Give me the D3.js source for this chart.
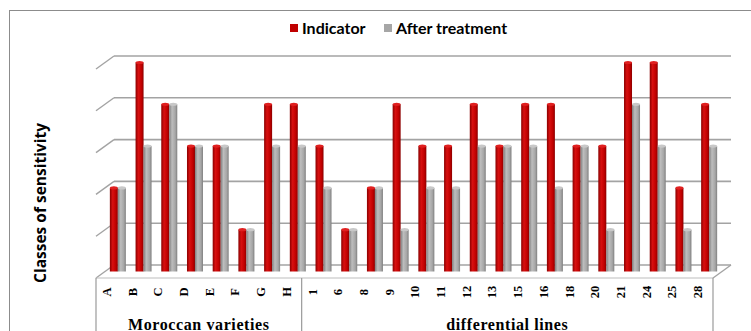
<!DOCTYPE html>
<html>
<head>
<meta charset="utf-8">
<script src="https://cdn.jsdelivr.net/npm/d3@7"></script>
<style>
  html, body { margin: 0; padding: 0; background: #fff; }
  svg { display: block; }
</style>
</head>
<body>
<svg id="chart" width="751" height="331"></svg>
<script>
// Categories (two groups) and the two series of sensitivity classes
const varieties = ["A", "B", "C", "D", "E", "F", "G", "H"];
const lines = ["1", "6", "8", "9", "10", "11", "12", "13", "15", "16", "18", "20", "21", "24", "25", "28"];
const categories = varieties.concat(lines);
const indicator = [2, 5, 4, 3, 3, 1, 4, 4, 3, 1, 2, 4, 3, 3, 4, 3, 4, 4, 3, 3, 5, 5, 2, 4];
const afterTreatment = [2, 3, 4, 3, 3, 1, 3, 3, 2, 1, 2, 1, 2, 2, 3, 3, 3, 2, 3, 1, 4, 3, 1, 3];
const seriesNames = ["Indicator", "After treatment"];
const groups = [
  { name: "Moroccan varieties", members: varieties },
  { name: "differential lines", members: lines }
];
const yTicks = [0, 1, 2, 3, 4, 5];

const svg = d3.select("#chart");
const colors = { "Indicator": "#c00000", "After treatment": "#a6a6a6" };

// 3D layout: front plane of the plot and a depth offset to the back wall
const depth = { dx: 18, dy: -13 };
const x = d3.scaleBand().domain(categories).range([96, 713]).padding(0);
const yBack = d3.scaleLinear().domain([0, 5]).range([265, 56]);
const yFront = v => yBack(v) - depth.dy;
const yMid = v => yBack(v) - depth.dy / 2;
const pairWidth = 16;
const xInner = d3.scaleBand().domain(seriesNames).range([0, pairWidth]);

// outer chart frame
svg.append("rect")
  .attr("x", 9.5).attr("y", 10.5).attr("width", 800).attr("height", 400)
  .attr("fill", "none").attr("stroke", "#8c8c8c").attr("stroke-width", 1);

// gradients giving the bars a rounded, cylinder-like shading
const defs = svg.append("defs");
function cylGrad(id, dark, mid, light) {
  const g = defs.append("linearGradient").attr("id", id)
    .attr("x1", "0%").attr("x2", "100%").attr("y1", "0%").attr("y2", "0%");
  g.append("stop").attr("offset", "0%").attr("stop-color", dark);
  g.append("stop").attr("offset", "35%").attr("stop-color", light);
  g.append("stop").attr("offset", "75%").attr("stop-color", mid);
  g.append("stop").attr("offset", "100%").attr("stop-color", dark);
}
cylGrad("gInd", "#8a0000", "#c00000", "#d81010");
cylGrad("gAft", "#7f7f7f", "#a6a6a6", "#bdbdbd");

const grid = svg.append("g").attr("class", "grid");
const x0 = x.range()[0], x1 = x.range()[1];

// back wall gridlines and the side-wall diagonals
yTicks.forEach(v => {
  grid.append("line")
    .attr("x1", x0 + depth.dx).attr("x2", x1 + depth.dx)
    .attr("y1", yBack(v)).attr("y2", yBack(v))
    .attr("stroke", "#a3a3a3").attr("stroke-width", 1.6);
  grid.append("line")
    .attr("x1", x0).attr("y1", yFront(v))
    .attr("x2", x0 + depth.dx).attr("y2", yBack(v))
    .attr("stroke", "#a3a3a3").attr("stroke-width", 1.4);
});
// floor: front edge and right diagonal
grid.append("line")
  .attr("x1", x0).attr("x2", x1).attr("y1", yFront(0)).attr("y2", yFront(0))
  .attr("stroke", "#bdbdbd").attr("stroke-width", 1);
grid.append("line")
  .attr("x1", x1).attr("y1", yFront(0)).attr("x2", x1 + depth.dx).attr("y2", yBack(0))
  .attr("stroke", "#a3a3a3").attr("stroke-width", 1.4);

// bars, drawn at mid depth
const rows = categories.map((c, i) => ({
  cat: c,
  vals: [
    { s: "Indicator", v: indicator[i], fill: "url(#gInd)", top: "#e02020" },
    { s: "After treatment", v: afterTreatment[i], fill: "url(#gAft)", top: "#c8c8c8" }
  ]
}));
const catG = svg.append("g").selectAll("g").data(rows).join("g")
  .attr("transform", d => `translate(${x(d.cat) + (x.bandwidth() - pairWidth) / 2 + depth.dx / 2},0)`);
const barG = catG.selectAll("g").data(d => d.vals).join("g");
const bw = xInner.bandwidth();
barG.append("rect")
  .attr("x", d => xInner(d.s))
  .attr("y", d => yMid(d.v))
  .attr("width", bw)
  .attr("height", d => yMid(0) - yMid(d.v))
  .attr("fill", d => d.fill);
barG.append("ellipse")
  .attr("cx", d => xInner(d.s) + bw / 2)
  .attr("cy", d => yMid(d.v))
  .attr("rx", bw / 2)
  .attr("ry", 1.6)
  .attr("fill", d => d.top);

// category axis table: outer and group separators
const axisTop = yFront(0);
[x0, x(lines[0]), x1].forEach(px => {
  svg.append("line")
    .attr("x1", px).attr("x2", px).attr("y1", axisTop).attr("y2", 340)
    .attr("stroke", "#9a9a9a").attr("stroke-width", 1.2);
});

// category labels (rotated)
svg.append("g").selectAll("text").data(categories).join("text")
  .attr("transform", d => `translate(${x(d) + x.bandwidth() / 2 + 2},292) rotate(-90)`)
  .attr("text-anchor", "middle")
  .attr("font-family", "'Liberation Serif', 'Times New Roman', serif")
  .attr("font-weight", "bold")
  .attr("font-size", 12.5)
  .attr("fill", "#000")
  .text(d => d);

// group labels
svg.append("g").selectAll("text").data(groups).join("text")
  .attr("x", d => (x(d.members[0]) + x(d.members[d.members.length - 1]) + x.bandwidth()) / 2)
  .attr("y", 329.5)
  .attr("text-anchor", "middle")
  .attr("font-family", "'Liberation Serif', 'Times New Roman', serif")
  .attr("font-weight", "bold")
  .attr("font-size", 16)
  .attr("letter-spacing", 0.6)
  .attr("fill", "#000")
  .text(d => d.name);

// y-axis title
svg.append("text")
  .attr("transform", "translate(45.5,203) rotate(-90)")
  .attr("text-anchor", "middle")
  .attr("font-family", "'Open Sans', Lato, sans-serif")
  .attr("font-weight", "bold")
  .attr("font-size", 15.5)
  .attr("fill", "#000")
  .text("Classes of sensitivity");

// legend
const legend = svg.append("g").attr("font-family", "Lato, 'Open Sans', sans-serif")
  .attr("font-weight", "bold").attr("font-size", 16);
const legendPos = [290, 384];
seriesNames.forEach((s, i) => {
  legend.append("rect").attr("x", legendPos[i]).attr("y", 24).attr("width", 8).attr("height", 8)
    .attr("fill", colors[s]);
  legend.append("text").attr("x", legendPos[i] + 12).attr("y", 34).attr("fill", "#000").text(s);
});
</script>
</body>
</html>
